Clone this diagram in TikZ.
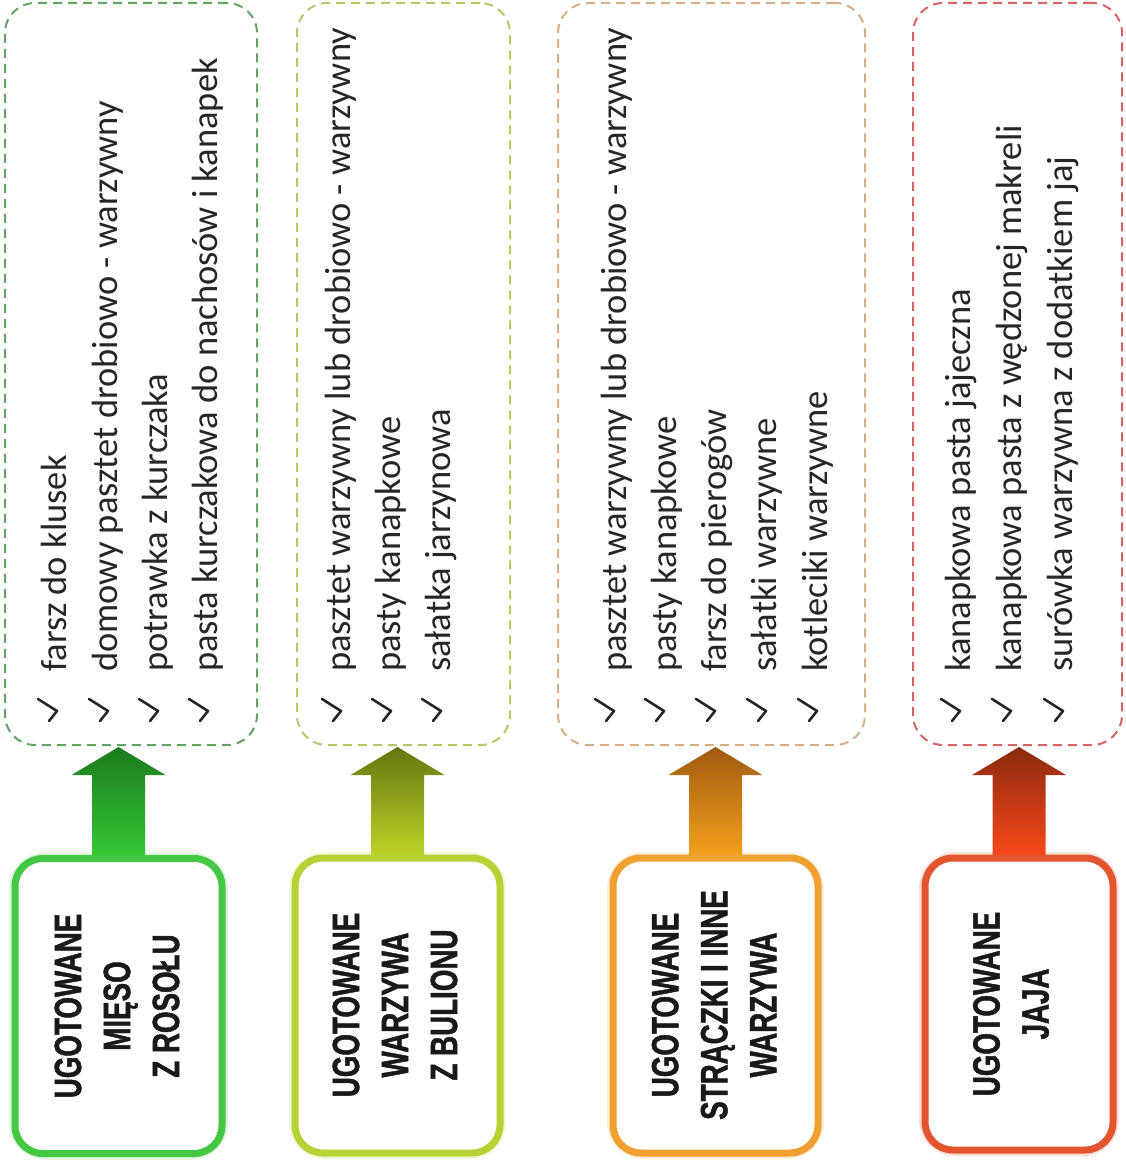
\documentclass[tikz,border=0pt]{standalone}
\usepackage{fontspec}
\usetikzlibrary{backgrounds,calc}
\newfontfamily\lf{Carlito}
\newfontfamily\hf[FakeStretch=0.73,BoldFeatures={FakeBold=1.2}]{Liberation Sans}
\definecolor{gB}{HTML}{44C844}
\definecolor{gD}{HTML}{62A462}
\definecolor{gT}{HTML}{1C7A1C}
\definecolor{gL}{HTML}{36CC36}
\definecolor{yB}{HTML}{B5D334}
\definecolor{yD}{HTML}{BCC668}
\definecolor{yT}{HTML}{667510}
\definecolor{yL}{HTML}{C2D82A}
\definecolor{oB}{HTML}{F0A030}
\definecolor{oD}{HTML}{D8AE84}
\definecolor{oT}{HTML}{A05A10}
\definecolor{oL}{HTML}{F8A41E}
\definecolor{rB}{HTML}{E4552E}
\definecolor{rD}{HTML}{D66464}
\definecolor{rT}{HTML}{8A2A10}
\definecolor{rL}{HTML}{FF4A1A}
\tikzset{
  lstbox/.style={rectangle, draw=#1, line width=2pt, dash pattern=on 9pt off 6pt,
    rounded corners=30pt, inner sep=0pt, outer sep=0pt},
  hdrbox/.style={rectangle, draw=#1, line width=7pt, rounded corners=28pt,
    fill=white, inner sep=0pt, outer sep=0pt},
  item/.style={rotate=90, anchor=base west, inner sep=0pt,
    font=\lf\fontsize{36.5}{42}\selectfont, text=black!85},
  chk/.style={rectangle, minimum width=34pt, minimum height=34pt, inner sep=0pt,
    path picture={\draw[line width=2.6pt, line cap=round, line join=round, black!85]
      ([shift={(-11,-11)}]path picture bounding box.center)
      -- ([shift={(8,1)}]path picture bounding box.center)
      -- ([shift={(0,11)}]path picture bounding box.center);}},
  hdrtxt/.style={rotate=90, align=center, inner sep=0pt,
    font=\hf\bfseries\fontsize{38}{49}\selectfont, text=black!90},
  glow/.style={draw=#1!18, line width=12pt, rounded corners=30pt}
}
\newcommand\uparr[4]{%
  \shade[top color=#3, bottom color=#4]
    let \p1=(#1.north), \p2=(#2.south) in
    (\x1-26.5pt,\y1-3pt) -- (\x1-26.5pt,\y2-30pt) -- (\x1-47pt,\y2-30pt)
    -- (\x1,\y2-2pt) -- (\x1+47pt,\y2-30pt) -- (\x1+26.5pt,\y2-30pt)
    -- (\x1+26.5pt,\y1-3pt) -- cycle;}
\begin{document}
\begin{tikzpicture}[x=1pt,y=-1pt]
\useasboundingbox (0,0) rectangle (1125,1164);
% list boxes
\node[lstbox=gD, minimum width=252pt, minimum height=742pt] (lg) at (131,374) {};
\node[lstbox=yD, minimum width=213pt, minimum height=742pt] (ly) at (403.5,374) {};
\node[lstbox=oD, minimum width=307pt, minimum height=742pt] (lo) at (711.5,374) {};
\node[lstbox=rD, minimum width=209pt, minimum height=742pt] (lr) at (1017.5,374) {};
% header boxes
\node[hdrbox=gB, minimum width=207pt, minimum height=295pt] (hg) at (118.5,1006) {};
\node[hdrbox=yB, minimum width=205pt, minimum height=295pt] (hy) at (397.5,1005.5) {};
\node[hdrbox=oB, minimum width=205pt, minimum height=295pt] (ho) at (715.5,1005.5) {};
\node[hdrbox=rB, minimum width=188pt, minimum height=292pt] (hr) at (1019,1004) {};
% glows and arrows
\begin{scope}[on background layer]
  \draw[glow=gB] (hg.south west) rectangle (hg.north east);
  \draw[glow=yB] (hy.south west) rectangle (hy.north east);
  \draw[glow=oB] (ho.south west) rectangle (ho.north east);
  \draw[glow=rB] (hr.south west) rectangle (hr.north east);
  \uparr{hg}{lg}{gT}{gL}
  \uparr{hy}{ly}{yT}{yL}
  \uparr{ho}{lo}{oT}{oL}
  \uparr{hr}{lr}{rT}{rL}
\end{scope}
% header texts
\node[hdrtxt] (tg) at (117,1006) {UGOTOWANE\\MIĘSO\\Z ROSOŁU};
\node[hdrtxt] (ty) at (395,1005) {UGOTOWANE\\WARZYWA\\Z BULIONU};
\node[hdrtxt] (to) at (714,1005) {UGOTOWANE\\STRĄCZKI I INNE\\WARZYWA};
\node[hdrtxt] (tr) at (1011,1004) {UGOTOWANE\\JAJA};
% green list
\node[chk] (cg1) at (49,710) {};  \node[item] (ig1) at (66,672) {farsz do klusek};
\node[chk] (cg2) at (100,710) {}; \node[item] (ig2) at (117,672) {domowy pasztet drobiowo - warzywny};
\node[chk] (cg3) at (150,710) {}; \node[item] (ig3) at (167,672) {potrawka z kurczaka};
\node[chk] (cg4) at (200,710) {}; \node[item] (ig4) at (217,672) {pasta kurczakowa do nachosów i kanapek};
% yellow list
\node[chk] (cy1) at (333,710) {}; \node[item] (iy1) at (350,672) {pasztet warzywny lub drobiowo - warzywny};
\node[chk] (cy2) at (383,710) {}; \node[item] (iy2) at (400,672) {pasty kanapkowe};
\node[chk] (cy3) at (433,710) {}; \node[item] (iy3) at (450,672) {sałatka jarzynowa};
% orange list
\node[chk] (co1) at (606,710) {}; \node[item] (io1) at (626,672) {pasztet warzywny lub drobiowo - warzywny};
\node[chk] (co2) at (656,710) {}; \node[item] (io2) at (676,672) {pasty kanapkowe};
\node[chk] (co3) at (707,710) {}; \node[item] (io3) at (726,672) {farsz do pierogów};
\node[chk] (co4) at (758,710) {}; \node[item] (io4) at (776,672) {sałatki warzywne};
\node[chk] (co5) at (809,710) {}; \node[item] (io5) at (827,672) {kotleciki warzywne};
% red list
\node[chk] (cr1) at (952,710) {};  \node[item] (ir1) at (970,672) {kanapkowa pasta jajeczna};
\node[chk] (cr2) at (1003,710) {}; \node[item] (ir2) at (1021,672) {kanapkowa pasta z wędzonej makreli};
\node[chk] (cr3) at (1055,710) {}; \node[item] (ir3) at (1072,672) {surówka warzywna z dodatkiem jaj};
\end{tikzpicture}
\end{document}
